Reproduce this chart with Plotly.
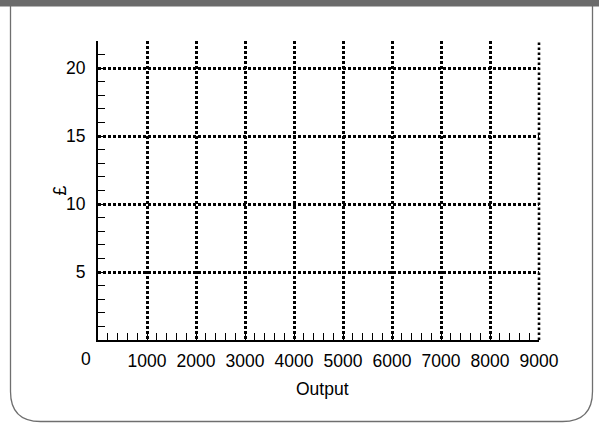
import plotly.graph_objects as go

# axis values
x_range = [0, 9000]
y_range = [0, 22]
x_tickvals = [1000, 2000, 3000, 4000, 5000, 6000, 7000, 8000, 9000]
x_ticktext = ['1000', '2000', '3000', '4000', '5000', '6000', '7000', '8000', '9000']
y_tickvals = [5, 10, 15, 20]
y_ticktext = ['5', '10', '15', '20']
x_title = 'Output'
y_title = '£'

W, H = 599, 423
L, R, T, B = 98, 60, 41, 83
pw, ph = W - L - R, H - T - B


def px(x):
    return (x - L) / pw


def py(y):
    return (H - B - y) / ph


FONT = dict(family='Liberation Sans, Arial, sans-serif', size=17.5, color='black')
GRID = dict(color='black', width=2.6, dash='2.6px,2.4px')

fig = go.Figure()

# panel border with rounded bottom corners
x0, x1, y0, y1, r = 10.5, 592.5, 6, 421.5, 30
path = (f'M {px(x0)},{py(y0)} L {px(x0)},{py(y1 - r)} '
        f'Q {px(x0)},{py(y1)} {px(x0 + r)},{py(y1)} '
        f'L {px(x1 - r)},{py(y1)} '
        f'Q {px(x1)},{py(y1)} {px(x1)},{py(y1 - r)} '
        f'L {px(x1)},{py(y0)}')
fig.add_shape(type='path', path=path, xref='paper', yref='paper',
              line=dict(color='#6f6f6f', width=1.3), layer='below')
# dark strip on top
fig.add_shape(type='rect', xref='paper', yref='paper',
              x0=px(0), x1=px(W), y0=py(0), y1=py(6.5),
              fillcolor='#6b6b6b', line=dict(width=0), layer='below')

axis_common = dict(
    showline=True, linecolor='black', linewidth=2,
    ticks='inside', ticklen=7, tickwidth=1.4, tickcolor='black',
    showgrid=True, gridcolor=GRID['color'], gridwidth=GRID['width'], griddash=GRID['dash'],
    zeroline=False, tickfont=FONT,
)

fig.update_xaxes(range=x_range, tickvals=x_tickvals, ticktext=x_ticktext,
                 minor=dict(dtick=200, ticks='inside', ticklen=7, tickwidth=1.4,
                            tickcolor='black', showgrid=False),
                 ticklabelstandoff=4, **axis_common)
fig.update_yaxes(range=y_range, tickvals=y_tickvals, ticktext=y_ticktext,
                 minor=dict(dtick=1, ticks='inside', ticklen=7, tickwidth=1.4,
                            tickcolor='black', showgrid=False),
                 ticklabelstandoff=7, **axis_common)

# plotly drops the gridline sitting on the right edge (range end = last tick), so draw it
fig.add_shape(type='line', xref='paper', yref='paper', x0=1, x1=1,
              y0=0, y1=1, line=GRID, layer='above')

# shared origin label sits left of the corner
fig.add_annotation(x=0, y=0, xref='x', yref='y', text='0', showarrow=False,
                   font=FONT, xanchor='center', yanchor='top', xshift=-12, yshift=-7)
# axis titles
fig.add_annotation(x=0.5, y=py(389), xref='paper', yref='paper', text=x_title,
                   showarrow=False, font=FONT, xanchor='center', yanchor='middle', xshift=4)
fig.add_annotation(x=px(59), y=0.5, xref='paper', yref='paper', text=y_title,
                   showarrow=False, font=FONT, textangle=-90,
                   xanchor='center', yanchor='middle')

fig.update_layout(
    width=W, height=H,
    margin=dict(l=L, r=R, t=T, b=B),
    paper_bgcolor='white', plot_bgcolor='white',
    showlegend=False,
)

fig.write_html('out.html', config={'displayModeBar': False},
               post_script="document.body.style.margin='0';")
